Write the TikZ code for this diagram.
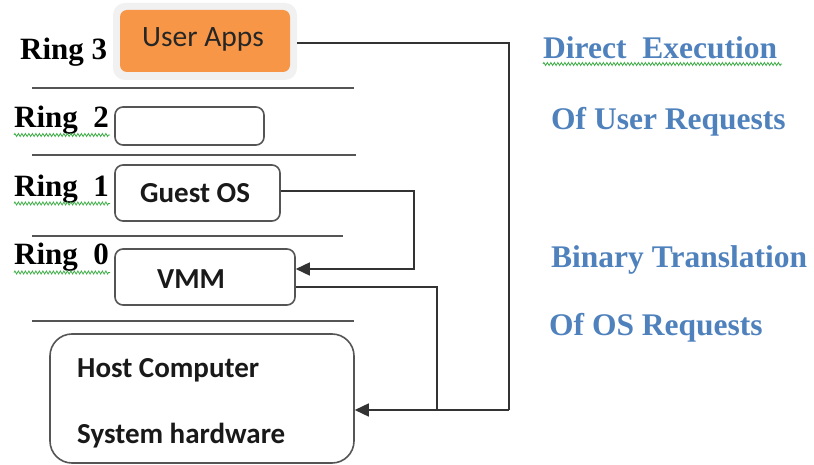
\documentclass[tikz,border=0pt]{standalone}
\usepackage{fontspec}
\setmainfont{Liberation Serif}
\newfontfamily\boxfont{Carlito}
\usetikzlibrary{arrows.meta,decorations.pathmorphing,calc}

\definecolor{appsorange}{HTML}{F79646}
\definecolor{halogray}{HTML}{F1F1F1}
\definecolor{linegray}{HTML}{555555}
\definecolor{wireblack}{HTML}{333333}
\definecolor{noteblue}{HTML}{4F81BD}
\definecolor{spellgreen}{HTML}{3DAE46}

\tikzset{
  ringlabel/.style={anchor=base west, inner sep=0pt,
    font=\fontsize{31}{31}\selectfont\bfseries},
  notelabel/.style={anchor=base west, inner sep=0pt, text=noteblue,
    font=\fontsize{31.5}{31.5}\selectfont\bfseries},
  boxtext/.style={anchor=base west, inner sep=0pt, text=black!90,
    font=\fontsize{29}{29}\selectfont\boxfont\bfseries},
  ringbox/.style={draw=linegray, line width=1.6pt, rounded corners=8pt,
    inner sep=0pt, fill=white},
  separator/.style={draw=linegray, line width=2.2pt},
  wire/.style={draw=wireblack, line width=1.6pt},
  arrowwire/.style={wire, -{Triangle[length=14pt,width=13pt]}},
  squiggle/.style={draw=spellgreen, line width=0.8pt,
    decorate, decoration={zigzag, segment length=3.5pt, amplitude=1.5pt}}
}

\begin{document}
\begin{tikzpicture}[x=1pt,y=-1pt]
  \useasboundingbox[fill=white] (0,0) rectangle (814,465);

  % ring separators
  \draw[separator] (32,88) -- (354,88);
  \draw[separator] (32,155) -- (356,155);
  \draw[separator] (32,236) -- (343,236);
  \draw[separator] (32,321) -- (354,321);

  % ring 3: user applications
  \node[fill=halogray, rounded corners=12pt, minimum width=184pt,
        minimum height=77pt, inner sep=0pt] (halo) at (205,41.5) {};
  \node[fill=appsorange, rounded corners=7pt, minimum width=170pt,
        minimum height=62pt, inner sep=0pt] (apps) at (205,41) {};
  \node[anchor=base west, inner sep=0pt, text=black!85,
        font=\fontsize{29.5}{29.5}\selectfont\boxfont] (appstext) at (142,47) {User Apps};

  % rings 2, 1, 0 and the hardware
  \node[ringbox, minimum width=149pt, minimum height=38pt] (ringtwo) at (189.5,126) {};
  \node[ringbox, minimum width=165pt, minimum height=56pt] (guest) at (197.5,193) {};
  \node[boxtext] (guesttext) at (140,203) {Guest OS};
  \node[ringbox, minimum width=180pt, minimum height=56pt] (vmm) at (205,277) {};
  \node[boxtext] (vmmtext) at (157,288) {VMM};
  \node[ringbox, rounded corners=22pt, minimum width=304pt, minimum height=129pt] (host) at (202,398.5) {};
  \node[boxtext] (hosttext) at (77,377) {Host Computer};
  \node[boxtext] (systext) at (77,443) {System hardware};

  % ring labels
  \node[ringlabel] (r3) at (20,60) {Ring 3};
  \node[ringlabel] (r2) at (14,128) {Ring\ \ 2};
  \node[ringlabel] (r1) at (14,197) {Ring\ \ 1};
  \node[ringlabel] (r0) at (14,265) {Ring\ \ 0};
  \draw[squiggle] (14,135) -- (110,135);
  \draw[squiggle] (14,203.5) -- (110,203.5);
  \draw[squiggle] (14,272.5) -- (110,272.5);

  % explanatory notes
  \node[notelabel] (n1) at (543,59) {Direct\ \ Execution};
  \node[notelabel] (n2) at (551,130) {Of User Requests};
  \node[notelabel] (n3) at (551,267) {Binary Translation};
  \node[notelabel] (n4) at (549,335) {Of OS Requests};
  \draw[squiggle] (543,64) -- (782,64);

  % connectors
  \coordinate (appsout) at ($(halo.east)+(0,1.5)$);
  \coordinate (userdrop) at (509,410);
  \coordinate (guestout) at ($(guest.east)+(0,-2)$);
  \coordinate (guestdrop) at (414,269);
  \coordinate (vmmout) at ($(vmm.east)+(0,10)$);
  \coordinate (vmmdrop) at (437,410);

  \draw[wire] (appsout) -| (userdrop);
  \draw[arrowwire] (userdrop) -- (host.east |- userdrop);
  \draw[arrowwire] (guestout) -| (guestdrop) -- (vmm.east |- guestdrop);
  \draw[wire] (vmmout) -| (vmmdrop);
\end{tikzpicture}
\end{document}
